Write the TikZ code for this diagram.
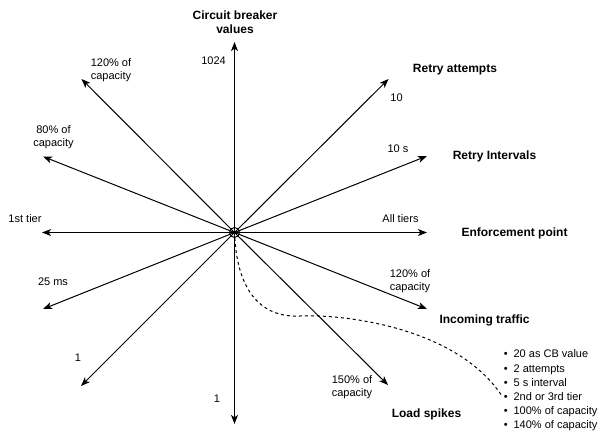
\documentclass[tikz,border=0pt]{standalone}
\usepackage{fontspec}
\setmainfont{Liberation Sans}
\usetikzlibrary{arrows.meta}
\begin{document}
\begin{tikzpicture}[x=0.75pt,y=-0.75pt,
  spoke/.style={line width=0.75pt,-{Stealth[length=6.8pt,width=5.2pt,inset=1.8pt]}},
  lab/.style={font=\fontsize{8.25}{9.6}\selectfont,align=center,inner sep=0pt},
  head/.style={font=\fontsize{9}{10.5}\selectfont\bfseries,align=center,inner sep=0pt},
  hub/.style={circle,draw,line width=0.75pt,minimum size=7.5pt,inner sep=0pt},
  link/.style={line width=0.75pt,dash pattern=on 2.25pt off 2.25pt}]
\useasboundingbox (0,0) rectangle (605,432);
\coordinate (c) at (234.5,232.5);
\coordinate (tU) at (234.5,42);
\coordinate (tD) at (234.5,424);
\coordinate (tR) at (427,232.5);
\coordinate (tL) at (42,232.5);
\coordinate (tUL) at (81.5,79);
\coordinate (tUR) at (388.5,79);
\coordinate (tDL) at (81,386);
\coordinate (tDR) at (388,385);
\coordinate (tLU) at (43,156.5);
\coordinate (tRU) at (427,156);
\coordinate (tLD) at (43,309);
\coordinate (tRD) at (427,309);
\foreach \t in {tU,tD,tR,tL,tUL,tUR,tDL,tDR,tLU,tRU,tLD,tRD}
  \draw[spoke] (c) -- (\t);
\node[hub,fill=none] (h) at (c) {};
% labels
\node[head] (cbv) at (235,22) {Circuit breaker\\values};
\node[lab] (v1024) at (213.5,61) {1024};
\node[head] (ra) at (455,70) {Retry attempts};
\node[lab] (v10) at (396.5,98) {10};
\node[lab] (v10s) at (398,148.5) {10 s};
\node[head] (ri) at (494.5,156) {Retry Intervals};
\node[lab] (vall) at (400.5,219) {All tiers};
\node[head] (ep) at (514.5,233) {Enforcement point};
\node[lab] (v120r) at (410,281.5) {120\% of\\capacity};
\node[head] (it) at (484.5,320) {Incoming traffic};
\node[lab] (v150) at (352,387.5) {150\% of\\capacity};
\node[head] (ls) at (426.5,414.5) {Load spikes};
\node[lab] (v1d) at (217,399) {1};
\node[lab] (v120l) at (111,70) {120\% of\\capacity};
\node[lab] (v80) at (53.5,137) {80\% of\\capacity};
\node[lab] (v1st) at (25,219) {1st tier};
\node[lab] (v25) at (53,282) {25 ms};
\node[lab] (v1l) at (78,358) {1};
% list
\node[inner sep=0pt,anchor=west] (lst) at (503.5,390.5) {\fontsize{8.25}{10.65}\selectfont
  \begin{tabular}{@{}c@{\hspace{4.5pt}}l@{}}
  \textbullet & 20 as CB value\\
  \textbullet & 2 attempts\\
  \textbullet & 5 s interval\\
  \textbullet & 2nd or 3rd tier\\
  \textbullet & 100\% of capacity\\
  \textbullet & 140\% of capacity
  \end{tabular}};
\coordinate (lend) at (502,396);
\draw[link] (h) .. controls (238,292) and (262,318) .. (300,316)
  .. controls (338,314) and (455,325) .. (lend);
\end{tikzpicture}
\end{document}
